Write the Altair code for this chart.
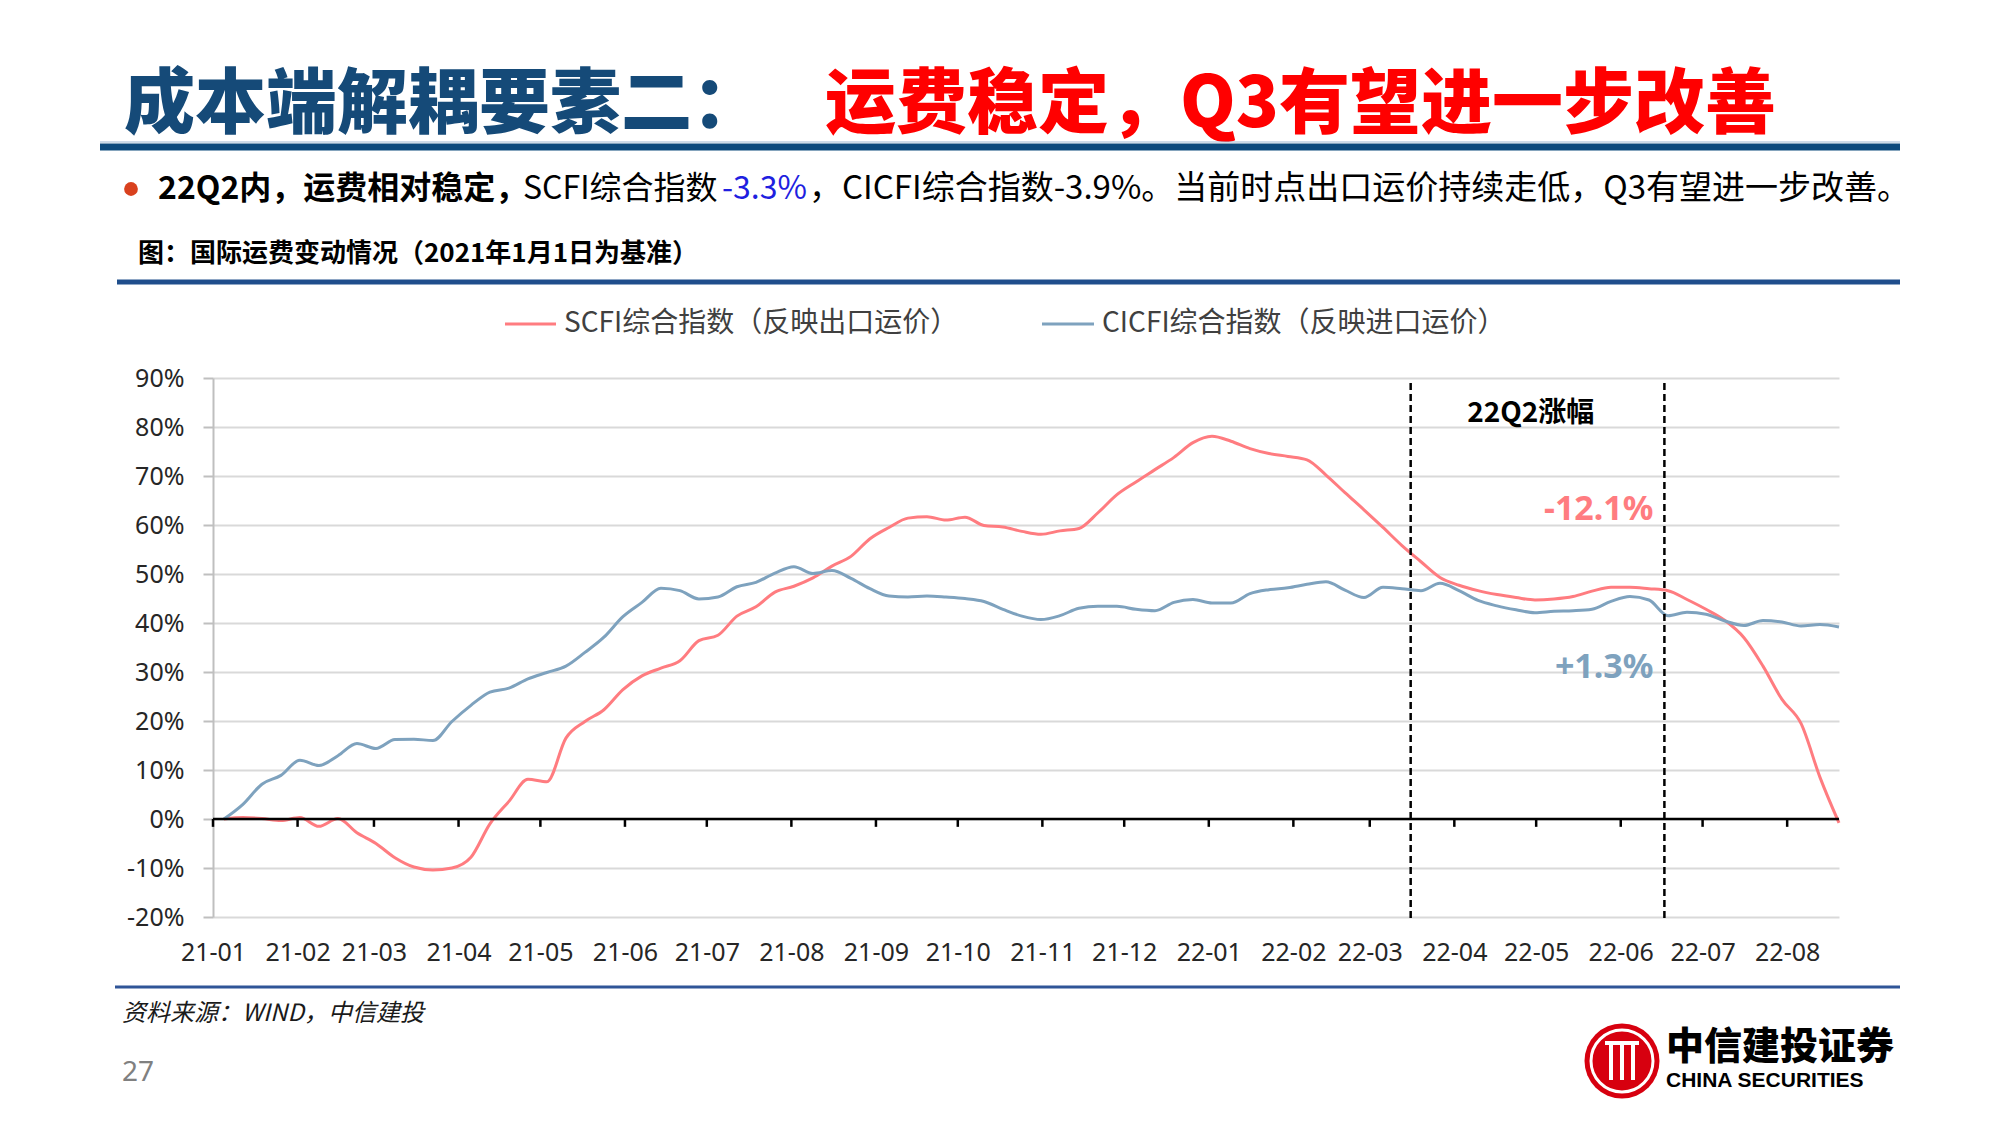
import altair as alt
import pandas as pd

# ---------------- data ----------------
series_names = ["SCFI综合指数（反映出口运价）", "CICFI综合指数（反映进口运价）"]
series_colors = ["#FF7C80", "#7EA2BE"]

scfi = [0, 0.3, 0.1, -0.3, 0.3, -1.5, 0.1, -2.8, -5.0, -7.9,
        -9.8, -10.4, -10.0, -7.8, -1.0, 3.6, 8.1, 7.6, 16.5, 19.9,
        22.3, 26.4, 29.2, 30.8, 32.3, 36.4, 37.5, 41.4, 43.3, 46.3,
        47.5, 49.2, 51.6, 53.6, 57.2, 59.5, 61.4, 61.7, 61.0, 61.6,
        59.9, 59.6, 58.7, 58.1, 58.8, 59.3, 62.5, 66.2, 68.8, 71.3,
        73.8, 76.8, 78.1, 77.1, 75.6, 74.6, 74.0, 73.3, 70.2, 66.6,
        63.1, 59.5, 55.8, 52.5, 49.3, 47.7, 46.6, 45.8, 45.2, 44.7,
        44.9, 45.4, 46.5, 47.3, 47.3, 47.0, 46.6, 44.8, 42.8, 40.5,
        37.0, 31.2, 24.4, 19.5, 8.5, -0.8]

cicfi = [0, 3.0, 7.1, 8.9, 12.0, 10.9, 12.9, 15.4, 14.4, 16.2,
         16.3, 16.0, 19.9, 23.2, 25.9, 26.7, 28.6, 29.9, 31.2, 34.0,
         37.1, 41.3, 44.2, 47.1, 46.6, 44.9, 45.3, 47.4, 48.3, 50.2,
         51.5, 50.1, 50.7, 49.1, 47.0, 45.5, 45.3, 45.5, 45.3, 45.0,
         44.4, 42.8, 41.4, 40.7, 41.5, 43.0, 43.4, 43.4, 42.8, 42.5,
         44.2, 44.8, 44.1, 44.1, 46.0, 46.8, 47.2, 47.9, 48.4, 46.7,
         45.2, 47.3, 47.0, 46.6, 48.1, 46.6, 44.6, 43.5, 42.7, 42.1,
         42.4, 42.5, 42.8, 44.4, 45.4, 44.7, 41.5, 42.2, 41.8, 40.4,
         39.5, 40.5, 40.2, 39.4, 39.7, 39.2]

first_date = "2021-01-05"
last_date = "2022-08-20"
month_labels = ["21-01", "21-02", "21-03", "21-04", "21-05", "21-06", "21-07",
                "21-08", "21-09", "21-10", "21-11", "21-12", "22-01", "22-02",
                "22-03", "22-04", "22-05", "22-06", "22-07", "22-08"]
q2_bounds = ["2022-03-16", "2022-06-17"]
y_ticks = [-20, -10, 0, 10, 20, 30, 40, 50, 60, 70, 80, 90]

# ---------------- tables ----------------
dates = pd.date_range(first_date, last_date, periods=len(scfi))
df = pd.DataFrame({
    "date": list(dates) + list(dates),
    "value": scfi + cicfi,
    "series": [series_names[0]] * len(scfi) + [series_names[1]] * len(cicfi),
})
months_df = pd.DataFrame({"date": pd.to_datetime(["20" + m + "-01" for m in month_labels])})
q2_df = pd.DataFrame({"date": pd.to_datetime(q2_bounds)})

CJK = "Noto Sans CJK SC"
LAT = "Noto Sans"
OX, OY = 213, 378          # plot-area origin on the page
W, H = 1626, 539
one = alt.Data(values=[{"k": 1}])


def px(x):
    return alt.value(x - OX)


def py(y):
    return alt.value(y - OY)


def text_at(x, y, s, size, color="#000000", weight="normal", align="left",
            font=CJK, style="normal"):
    return alt.Chart(one).mark_text(
        text=s, fontSize=size, color=color, fontWeight=weight, align=align,
        baseline="middle", font=font, fontStyle=style
    ).encode(x=px(x), y=py(y))


def hrule(x1, x2, y, color, width):
    return alt.Chart(one).mark_rule(color=color, strokeWidth=width).encode(
        x=px(x1), x2=px(x2), y=py(y))


x_scale = alt.Scale(domain=[alt.DateTime(year=2021, month=1, date=1),
                            alt.DateTime(year=2022, month=8, date=20)], nice=False)
y_scale = alt.Scale(domain=[-20, 90], nice=False, zero=False)

lines = alt.Chart(df).mark_line(strokeWidth=3, interpolate="monotone").encode(
    x=alt.X("date:T", scale=x_scale, axis=alt.Axis(
        title=None, format="%y-%m", tickCount={"interval": "month", "step": 1},
        domain=False, ticks=False, tickSize=0, grid=False, labelPadding=23,
        labelFontSize=25, labelFont=LAT, labelColor="#262626", labelOverlap=False,
        labelFlush=False, labelBound=False)),
    y=alt.Y("value:Q", scale=y_scale, axis=alt.Axis(
        title=None, values=y_ticks, labelExpr="datum.value + '%'",
        grid=True, gridColor="#D9D9D9", gridWidth=2,
        domainColor="#BFBFBF", domainWidth=2, tickColor="#BFBFBF", tickWidth=2,
        tickSize=10, labelPadding=19, labelFontSize=25, labelFont=LAT,
        labelColor="#262626", labelFlush=False)),
    color=alt.Color("series:N", scale=alt.Scale(domain=series_names, range=series_colors),
                    legend=None),
)

zero_line = alt.Chart(one).mark_rule(color="black", strokeWidth=2.5).encode(y=alt.datum(0))
month_ticks = alt.Chart(months_df).mark_rule(color="black", strokeWidth=2.5).encode(
    x=alt.X("date:T", title=None), y=alt.datum(0), y2=alt.datum(-1.6))
q2_lines = alt.Chart(q2_df).mark_rule(color="black", strokeWidth=2.5, strokeDash=[7, 4]).encode(
    x=alt.X("date:T", title=None), y=alt.datum(89), y2=alt.datum(-21))

ann_q2 = alt.Chart(one).mark_text(text="22Q2涨幅", font=CJK, fontSize=28, fontWeight="bold",
                                  color="black", align="center", baseline="middle").encode(
    x=alt.datum(alt.DateTime(year=2022, month=4, date=29)), y=alt.datum(82.7))
ann_scfi = alt.Chart(one).mark_text(text="-12.1%", font=LAT, fontSize=34, fontWeight="bold",
                                    color=series_colors[0], align="right", baseline="middle").encode(
    x=alt.datum(alt.DateTime(year=2022, month=6, date=13)), y=alt.datum(63.1))
ann_cicfi = alt.Chart(one).mark_text(text="+1.3%", font=LAT, fontSize=34, fontWeight="bold",
                                     color=series_colors[1], align="right", baseline="middle").encode(
    x=alt.datum(alt.DateTime(year=2022, month=6, date=13)), y=alt.datum(30.9))

# legend (manual, matching reference placement)
legend = [
    hrule(505, 556, 324, series_colors[0], 3),
    text_at(564, 324, series_names[0], 28, color="#404040"),
    hrule(1042, 1094, 324, series_colors[1], 3),
    text_at(1102, 324, series_names[1], 28, color="#404040"),
]

# page decorations
page = [
    text_at(124, 106, "成本端解耦要素二：", 71, color="#154A78", weight=900),
    text_at(825, 106, "运费稳定，Q3有望进一步改善", 71, color="#FF0000", weight=900),
    hrule(100, 1900, 142, "#9DB7D0", 1),
    hrule(100, 1900, 147, "#0D4A7C", 7),
    alt.Chart(one).mark_point(shape="circle", filled=True, color="#D9411E", size=190, opacity=1).encode(
        x=px(131), y=py(189)),
    text_at(158, 189, "22Q2内，运费相对稳定，", 32, weight="bold"),
    text_at(523, 189, "SCFI综合指数", 32),
    text_at(722, 189, "-3.3%", 32, color="#1F1FE0"),
    text_at(809, 189, "，CICFI综合指数-3.9%。当前时点出口运价持续走低，Q3有望进一步改善。", 33),
    text_at(138, 254, "图：国际运费变动情况（2021年1月1日为基准）", 26, weight="bold"),
    hrule(117, 1900, 282, "#1F4E8C", 5),
    hrule(115, 1900, 987, "#2F5597", 3),
    text_at(122, 1014, "资料来源：WIND，中信建投", 24, color="#1A1A1A", style="italic"),
    text_at(122, 1073, "27", 28, color="#808080", font=LAT),
    # logo
    alt.Chart(one).mark_point(shape="circle", filled=True, color="#D7000F", size=75 * 75, opacity=1).encode(
        x=px(1622), y=py(1061)),
    alt.Chart(one).mark_point(shape="circle", filled=False, color="white", size=62 * 62, strokeWidth=3,
                              opacity=1).encode(x=px(1622), y=py(1061)),
    alt.Chart(one).mark_rule(color="white", strokeWidth=4).encode(x=px(1611), y=py(1042), y2=py(1080)),
    alt.Chart(one).mark_rule(color="white", strokeWidth=4).encode(x=px(1622), y=py(1042), y2=py(1080)),
    alt.Chart(one).mark_rule(color="white", strokeWidth=4).encode(x=px(1633), y=py(1042), y2=py(1080)),
    alt.Chart(one).mark_rule(color="white", strokeWidth=4).encode(x=px(1605), x2=px(1639), y=py(1043)),
    text_at(1666, 1048, "中信建投证券", 38, weight=900),
    text_at(1666, 1081, "CHINA SECURITIES", 21, weight="bold", font="Liberation Sans"),
]

chart = alt.layer(
    lines, zero_line, month_ticks, q2_lines, ann_q2, ann_scfi, ann_cicfi,
    *legend, *page
).properties(
    width=W, height=H,
    padding={"left": OX, "top": OY, "right": 2000 - OX - W, "bottom": 1125 - OY - H},
    autosize=alt.AutoSizeParams(type="none"),
    background="white",
).configure_view(stroke=None)

chart.save("out.html", embed_options={"renderer": "svg", "actions": False})
